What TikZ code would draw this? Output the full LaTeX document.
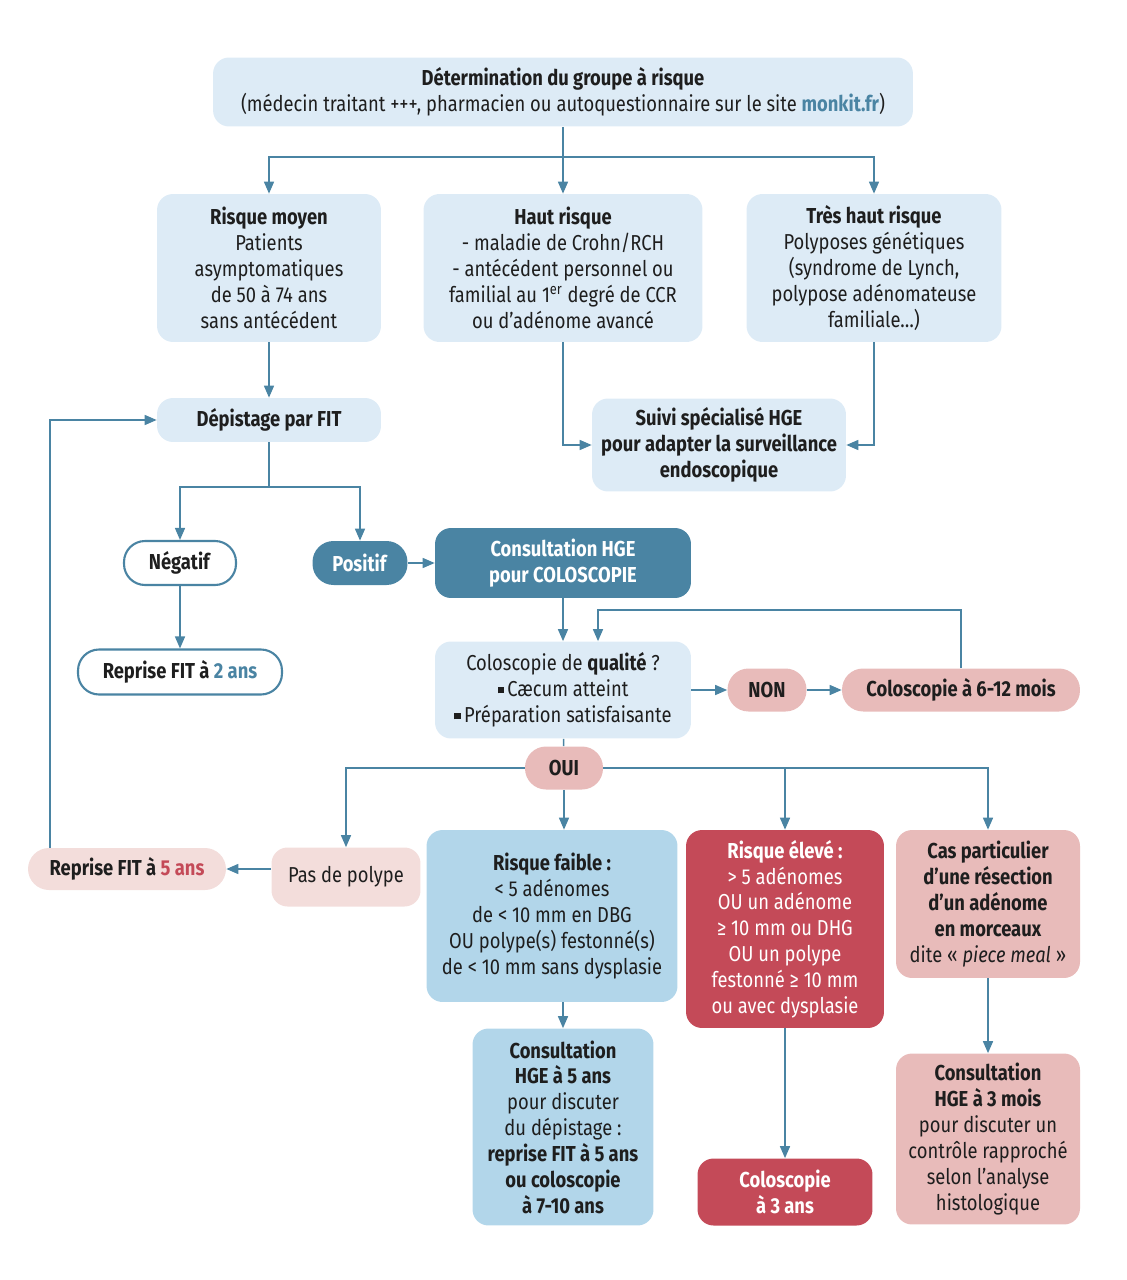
\documentclass[tikz,border=0pt]{standalone}
\usepackage{fontspec}
\setmainfont{Fira Sans}[FakeStretch=0.85]
\usetikzlibrary{arrows.meta}
\definecolor{bleupale}{RGB}{221,235,246}
\definecolor{bleumoyen}{RGB}{178,214,234}
\definecolor{bleufonce}{RGB}{74,132,163}
\definecolor{rosepale}{RGB}{243,221,219}
\definecolor{rose}{RGB}{232,187,186}
\definecolor{rouge}{RGB}{196,74,88}
\definecolor{encre}{RGB}{30,30,30}
\newcommand{\puce}{\rule[0.15em]{0.28em}{0.28em}\,}

\begin{document}
\begin{tikzpicture}[x=0.02cm,y=-0.02cm,
    boite/.style={rounded corners=0.32cm, align=center, inner sep=0pt,
      text=encre, font=\fontsize{12.3}{14.7}\selectfont},
    pilule/.style={boite, rounded corners=0.42cm},
    taille/.style 2 args={minimum width=#1cm, minimum height=#2cm},
    fleche/.style={draw=bleufonce, line width=0.85pt,
      -{Triangle[length=0.24cm,width=0.2cm]}},
    trait/.style={draw=bleufonce, line width=0.85pt}]
  \useasboundingbox (0,0) rectangle (1126,1280);

  \node[boite, fill=bleupale, taille={14}{1.38}] (groupe) at (563,92)
    {\textbf{Détermination du groupe à risque}\\
     (médecin traitant +++, pharmacien ou autoquestionnaire sur le site \textcolor{bleufonce}{\textbf{monkit.fr}})};

  \node[boite, fill=bleupale, taille={4.48}{2.96}] (moyen) at (269,268)
    {\textbf{Risque moyen}\\Patients\\asymptomatiques\\de 50 à 74 ans\\sans antécédent};
  \node[boite, fill=bleupale, taille={5.58}{2.96}] (haut) at (563,268)
    {\textbf{Haut risque}\\- maladie de Crohn/RCH\\- antécédent personnel ou\\
     familial au 1\textsuperscript{er} degré de CCR\\ou d’adénome avancé};
  \node[boite, fill=bleupale, taille={5.1}{2.96}] (treshaut) at (874,268)
    {\textbf{Très haut risque}\\Polyposes génétiques\\(syndrome de Lynch,\\polypose adénomateuse\\familiale…)};

  \node[boite, fill=bleupale, taille={4.48}{0.88}] (depistage) at (269,420)
    {\textbf{Dépistage par FIT}};
  \node[boite, fill=bleupale, taille={5.08}{1.86}, font=\fontsize{12.3}{14.7}\selectfont\bfseries] (suivi) at (719,445)
    {Suivi spécialisé HGE\\pour adapter la surveillance\\endoscopique};

  \node[pilule, fill=white, draw=bleufonce, line width=1.2pt, taille={2.24}{0.88}] (negatif) at (180,563)
    {\textbf{Négatif}};
  \node[pilule, fill=bleufonce, text=white, taille={1.9}{0.88}] (positif) at (360,563)
    {\textbf{Positif}};
  \node[boite, fill=bleufonce, text=white, taille={5.12}{1.4}] (consult) at (563,563)
    {\textbf{Consultation HGE}\\\textbf{pour COLOSCOPIE}};
  \node[pilule, fill=white, draw=bleufonce, line width=1.2pt, taille={4.08}{0.9}] (reprise2) at (180,672)
    {\textbf{Reprise FIT à \textcolor{bleufonce}{2 ans}}};

  \node[boite, fill=bleupale, taille={5.12}{1.94}] (qualite) at (563,690)
    {Coloscopie de \textbf{qualité} ?\\\puce Cæcum atteint\\\puce Préparation satisfaisante};
  \node[pilule, fill=rose, taille={1.58}{0.86}] (non) at (767,690)
    {\textbf{NON}};
  \node[pilule, fill=rose, taille={4.76}{0.86}] (colo612) at (961,690)
    {\textbf{Coloscopie à 6-12 mois}};
  \node[pilule, fill=rose, taille={1.56}{0.86}] (oui) at (564,768)
    {\textbf{OUI}};

  \node[boite, fill=rosepale, taille={2.98}{1.18}] (paspolype) at (346,877)
    {Pas de polype};
  \node[pilule, fill=rosepale, taille={3.96}{0.84}] (reprise5) at (127,869)
    {\textbf{Reprise FIT à \textcolor{rouge}{5 ans}}};
  \node[boite, fill=bleumoyen, taille={5.02}{3.44}] (faible) at (552,916)
    {\textbf{Risque faible :}\\< 5 adénomes\\de < 10 mm en DBG\\OU polype(s) festonné(s)\\de < 10 mm sans dysplasie};
  \node[boite, fill=rouge, text=white, taille={3.96}{3.96}] (eleve) at (785,929)
    {\textbf{Risque élevé :}\\> 5 adénomes\\OU un adénome\\≥ 10 mm ou DHG\\OU un polype\\festonné ≥ 10 mm\\ou avec dysplasie};
  \node[boite, fill=rose, taille={3.68}{2.96}] (cas) at (988,904)
    {\textbf{Cas particulier}\\\textbf{d’une résection}\\\textbf{d’un adénome}\\\textbf{en morceaux}\\dite « \textit{piece meal} »};

  \node[boite, fill=bleumoyen, taille={3.62}{3.94}] (consult5) at (563,1127)
    {\textbf{Consultation}\\\textbf{HGE à 5 ans}\\pour discuter\\du dépistage :\\
     \textbf{reprise FIT à 5 ans}\\\textbf{ou coloscopie}\\\textbf{à 7-10 ans}};
  \node[boite, fill=rouge, text=white, taille={3.5}{1.34}] (colo3) at (785,1192)
    {\textbf{Coloscopie}\\\textbf{à 3 ans}};
  \node[boite, fill=rose, taille={3.68}{3.42}] (consult3) at (988,1139)
    {\textbf{Consultation}\\\textbf{HGE à 3 mois}\\pour discuter un\\contrôle rapproché\\selon l’analyse\\histologique};

  \coordinate (embranche) at (563,157);
  \coordinate (fourche) at (269,487);
  \coordinate (boucle) at (598,610);
  \coordinate (retour) at (50,420);

  \draw[trait] (groupe) -- (embranche);
  \draw[fleche] (embranche) -| (moyen);
  \draw[fleche] (embranche) -- (haut);
  \draw[fleche] (embranche) -| (treshaut);
  \draw[fleche] (moyen) -- (depistage);
  \draw[fleche] (haut) |- (suivi);
  \draw[fleche] (treshaut) |- (suivi);
  \draw[trait] (depistage) -- (fourche);
  \draw[fleche] (fourche) -| (negatif);
  \draw[fleche] (fourche) -| (positif);
  \draw[fleche] (positif) -- (consult);
  \draw[fleche] (negatif) -- (reprise2);
  \draw[fleche] (consult) -- (qualite);
  \draw[fleche] (qualite) -- (non);
  \draw[fleche] (non) -- (colo612);
  \draw[fleche] (colo612) |- (boucle) -- (boucle |- qualite.north);
  \draw[trait] (qualite) -- (oui);
  \draw[fleche] (oui) -| (paspolype);
  \draw[fleche] (oui) -- (oui |- faible.north);
  \draw[fleche] (oui) -| (eleve);
  \draw[fleche] (oui) -| (cas);
  \draw[fleche] (paspolype.west |- reprise5) -- (reprise5);
  \draw[fleche] (reprise5.north -| retour) -- (retour) -- (depistage);
  \draw[fleche] (faible.south -| consult5) -- (consult5);
  \draw[fleche] (eleve) -- (colo3);
  \draw[fleche] (cas) -- (consult3);
\end{tikzpicture}
\end{document}
